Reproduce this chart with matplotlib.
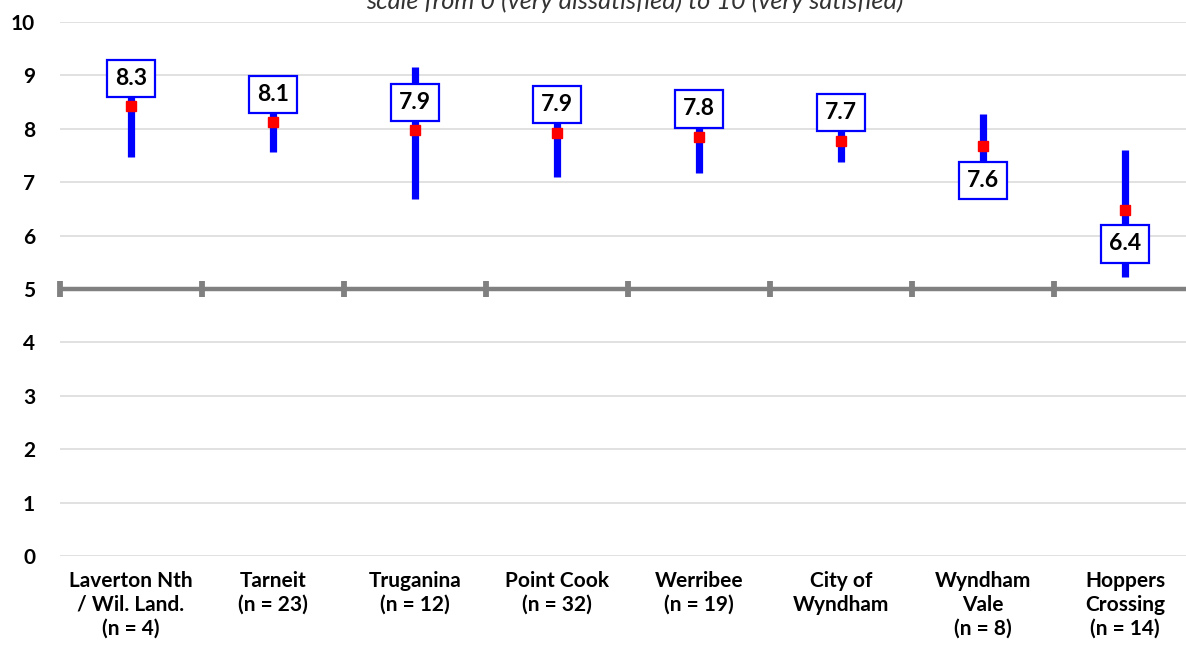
import matplotlib
matplotlib.use("Agg")
import matplotlib.pyplot as plt

plt.rcParams["font.family"] = ["Lato", "DejaVu Sans"]

# data
categories = [
    "Laverton Nth\n/ Wil. Land.\n(n = 4)",
    "Tarneit\n(n = 23)",
    "Truganina\n(n = 12)",
    "Point Cook\n(n = 32)",
    "Werribee\n(n = 19)",
    "City of\nWyndham",
    "Wyndham\nVale\n(n = 8)",
    "Hoppers\nCrossing\n(n = 14)",
]
means = [8.42, 8.12, 7.97, 7.93, 7.85, 7.78, 7.67, 6.48]
lower = [7.47, 7.57, 6.68, 7.09, 7.17, 7.38, 7.05, 5.23]
upper = [9.20, 8.60, 9.16, 8.70, 8.50, 8.10, 8.27, 7.60]
value_labels = ["8.3", "8.1", "7.9", "7.9", "7.8", "7.7", "7.6", "6.4"]
label_below = [False, False, False, False, False, False, True, True]
title = "scale from 0 (very dissatisfied) to 10 (very satisfied)"

fig = plt.figure(figsize=(11.86, 6.54), dpi=100)
ax = fig.add_axes([60 / 1186, 98 / 654, 1136 / 1186, 534 / 654])

x = list(range(len(categories)))
bounds = [i - 0.5 for i in range(len(categories) + 1)]

# grid
ax.set_ylim(0, 10)
ax.set_xlim(bounds[0], bounds[-1])
ax.set_yticks(range(0, 11))
for v in range(0, 11):
    if v != 5:
        ax.axhline(v, color="#D9D9D9", lw=1.1, zorder=0)
for s in ax.spines.values():
    s.set_visible(False)

# midpoint axis at 5 with category separators
ax.axhline(5, color="#808080", lw=3.2, zorder=1)
ax.plot(bounds, [5] * len(bounds), ls="none", marker="|", ms=11, mew=4.2,
        color="#808080", zorder=1, clip_on=False)

# error bars and means
ax.vlines(x, lower, upper, color="#0000FF", lw=5.2, zorder=3)
ax.plot(x, means, "s", color="#FF0000", markersize=6.8, zorder=4)

for xi, m, lab, below in zip(x, means, value_labels, label_below):
    off = -34 if below else 28
    ax.annotate(lab, (xi, m), xytext=(0, off), textcoords="offset pixels",
                ha="center", va="center", fontsize=16.5, fontweight="bold",
                zorder=6,
                bbox=dict(boxstyle="square,pad=0.36", fc="white",
                          ec="#0000FF", lw=1.6))

ax.set_xticks(x)
ax.set_xticklabels(categories, fontsize=15, fontweight="bold",
                   linespacing=1.22, va="top")
ax.tick_params(axis="x", length=0, pad=11)
ax.tick_params(axis="y", length=0, pad=18, labelsize=15)
for t in ax.get_yticklabels():
    t.set_fontweight("bold")

fig.text(635 / 1186, 1 - 9 / 654, title, ha="center", va="baseline",
         fontsize=18.3, fontstyle="italic", color="#333333")

fig.savefig("out.png", dpi=100)
